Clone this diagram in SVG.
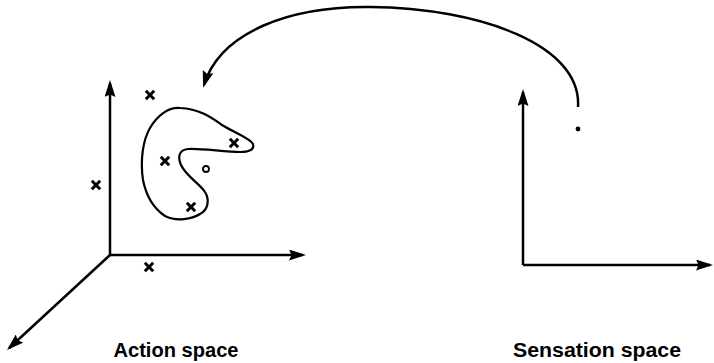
<svg xmlns="http://www.w3.org/2000/svg" width="714" height="363" viewBox="0 0 714 363">
<style>
.ax{fill:none;stroke:#000;stroke-width:2.5;marker-end:url(#ah)}
.x{stroke:#000;stroke-width:3;stroke-linecap:butt}
.lbl{font-family:"Liberation Sans",Arial,sans-serif;font-weight:bold;font-size:20px;fill:#000;text-anchor:middle}
</style>
<defs>
<marker id="ah" viewBox="0 0 17 11" refX="14" refY="5.5" markerWidth="17" markerHeight="11" orient="auto" markerUnits="userSpaceOnUse">
<path d="M0,0 L17,5.5 L0,11 L2.5,5.5 z" fill="#000"/>
</marker>
<g id="xm"><line class="x" x1="-4.2" y1="-4.2" x2="4.2" y2="4.2"/><line class="x" x1="-4.2" y1="4.2" x2="4.2" y2="-4.2"/></g>
</defs>
<rect width="714" height="363" fill="#fff"/>
<g id="action-space">
<line class="ax" x1="110" y1="255" x2="110" y2="83"/>
<line class="ax" x1="110" y1="255" x2="303" y2="255"/>
<line class="ax" x1="110" y1="255" x2="9.2" y2="348"/>
<text class="lbl" x="176" y="357" textLength="125" lengthAdjust="spacingAndGlyphs">Action space</text>
</g>
<g id="region">
<path d="M180,108 C200,109 212,118 222,125 C235,133 250,138 253,144 C255,150 248,152 240,152 C225,152 200,148 188,149 C178,150 178,158 181,165 C186,176 200,184 205,192 C210,200 208,210 200,214 C192,219 177,222 165,216 C153,208 146,195 143,180 C140,160 143,140 150,128 C157,116 168,107 180,108 Z" fill="none" stroke="#000" stroke-width="2.2"/>
</g>
<g id="points">
<use href="#xm" x="150" y="95"/>
<use href="#xm" x="96" y="185"/>
<use href="#xm" x="165" y="161"/>
<use href="#xm" x="234" y="143"/>
<use href="#xm" x="191" y="207"/>
<use href="#xm" x="149" y="267"/>
<circle cx="206" cy="169" r="3" fill="none" stroke="#000" stroke-width="1.8"/>
</g>
<g id="sensation-space">
<line class="ax" x1="523" y1="265" x2="523" y2="92"/>
<line class="ax" x1="523" y1="265" x2="710" y2="265"/>
<circle cx="578" cy="129" r="2.4" fill="#000"/>
<text class="lbl" x="597" y="357" textLength="168" lengthAdjust="spacingAndGlyphs">Sensation space</text>
</g>
<g id="connectors">
<path class="ax" d="M578,107 C582,45 480,8 370,7 C290,6 220,32 204,85"/>
</g>
</svg>
